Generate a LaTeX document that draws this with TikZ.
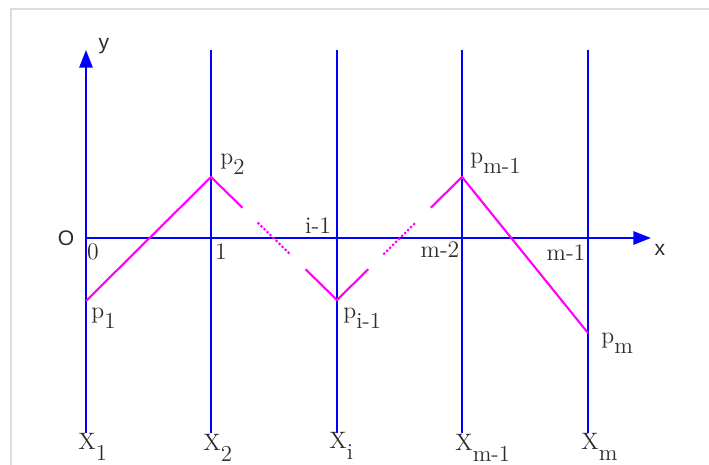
\documentclass[tikz,border=0pt]{standalone}
\usepackage{fontspec}
\newfontfamily\axfont{Liberation Sans}
\usetikzlibrary{arrows.meta,calc}
\definecolor{labelgray}{RGB}{45,45,45}
\definecolor{framegray}{RGB}{220,220,220}
\definecolor{polymag}{RGB}{255,0,255}
\definecolor{gridblue}{RGB}{0,0,255}
\newcommand{\lowsub}[1]{\raisebox{-1ex}{\fontsize{13}{15}\selectfont #1}}
\begin{document}
\begin{tikzpicture}[x=0.02cm,y=-0.02cm,
    vline/.style={gridblue,line width=1.2pt},
    arrowline/.style={vline,-{Triangle[length=10pt,width=7.5pt]}},
    poly/.style={polymag,line width=1.2pt},
    polydots/.style={polymag,line width=1.2pt,dash pattern=on 1.3pt off 1.1pt},
    lbl/.style={text=labelgray,font=\fontsize{13.5}{16}\selectfont,inner sep=0pt},
    axlbl/.style={text=labelgray,font=\axfont\large,inner sep=0pt}]
    \useasboundingbox (0,0) rectangle (709,465);
    \draw[framegray,line width=1.2pt] (11,465) -- (11,9) -- (709,9);
    % vertical lines
    \foreach \n/\x in {1/86,2/211,i/337,m1/462,m/588} {
        \coordinate (top\n) at (\x,50);
        \coordinate (bot\n) at (\x,433);
    }
    \draw[arrowline] (bot1) -- (top1);
    \foreach \n in {2,i,m1,m} \draw[vline] (bot\n) -- (top\n);
    % x axis
    \coordinate (o) at (86,238);
    \coordinate (xend) at (651,238);
    \draw[arrowline] (o) -- (xend);
    \node[axlbl] (ylab) at (104,46) {y};
    \node[axlbl] (xlab) at (660,250) {x};
    \node[axlbl] (olab) at (66,238) {O};
    % tick labels
    \node[lbl] (t0) at (93,252) {0};
    \node[lbl] (t1) at (221,252) {1};
    \node[lbl] (ti) at (318,226) {i-1};
    \node[lbl] (tm2) at (440,250) {m-2};
    \node[lbl] (tm1) at (566,253) {m-1};
    % bottom labels
    \node[lbl,anchor=west] (X1) at (78,447) {X\lowsub{1}};
    \node[lbl,anchor=west] (X2) at (203,448) {X\lowsub{2}};
    \node[lbl,anchor=west] (Xi) at (329,446) {X\lowsub{i}};
    \node[lbl,anchor=west] (Xm1) at (455,448) {X\lowsub{m-1}};
    \node[lbl,anchor=west] (Xm) at (581,447) {X\lowsub{m}};
    % polyline points
    \coordinate (p1) at (86,301);
    \coordinate (p2) at (211,177);
    \coordinate (pi) at (337,300);
    \coordinate (pm1) at (462,177);
    \coordinate (pm) at (588,333);
    \draw[poly] (p1) -- (p2) -- ($(p2)!0.25!(pi)$);
    \draw[polydots] ($(p2)!0.37!(pi)$) -- ($(p2)!0.63!(pi)$);
    \draw[poly] ($(p2)!0.75!(pi)$) -- (pi) -- ($(pi)!0.25!(pm1)$);
    \draw[polydots] ($(pi)!0.37!(pm1)$) -- ($(pi)!0.63!(pm1)$);
    \draw[poly] ($(pi)!0.75!(pm1)$) -- (pm1) -- (pm);
    \node[lbl,anchor=west] (lp1) at (91,318) {p\lowsub{1}};
    \node[lbl,anchor=west] (lp2) at (220,164) {p\lowsub{2}};
    \node[lbl,anchor=west] (lpi) at (343,318) {p\lowsub{i-1}};
    \node[lbl,anchor=west] (lpm1) at (470,163) {p\lowsub{m-1}};
    \node[lbl,anchor=west] (lpm) at (601,343) {p\lowsub{m}};
\end{tikzpicture}
\end{document}
